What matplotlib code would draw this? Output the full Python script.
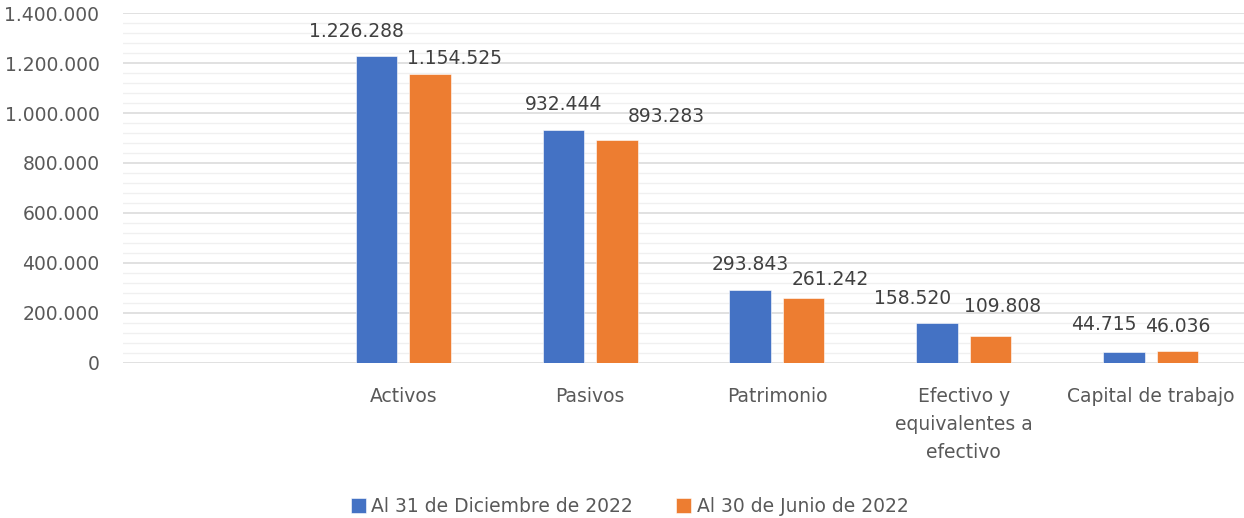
import matplotlib
matplotlib.use("Agg")
import matplotlib.pyplot as plt
from matplotlib.ticker import MultipleLocator, FuncFormatter

# Data (first category is intentionally empty, as in the original sheet)
categories = ["", "Activos", "Pasivos", "Patrimonio",
              "Efectivo y\nequivalentes a\nefectivo", "Capital de trabajo"]
dic_2022 = [0, 1226288, 932444, 293843, 158520, 44715]
jun_2022 = [0, 1154525, 893283, 261242, 109808, 46036]
series_names = ["Al 31 de Diciembre de 2022", "Al 30 de Junio de 2022"]

# manual label nudges (pixels) taken from the original chart
dic_label_dx = [0, -20, 0, 0, -24, -20]
dic_label_dy = [0, 25, 25, 25, 25, 27]
jun_label_dx = [0, 25, 50, 27, 12, 0]
jun_label_dy = [0, 16, 23, 18, 29, 25]

BLUE = "#4472C4"
ORANGE = "#ED7D31"
TXT = "#595959"
FS = 13.5

plt.rcParams["font.family"] = ["DejaVu Sans"]
plt.rcParams["font.size"] = FS

fig = plt.figure(figsize=(12.44, 5.18), dpi=100)
ax = fig.add_axes([123 / 1244, 155 / 518, 1121 / 1244, 350 / 518])

x = list(range(len(categories)))
w = 0.2225
off = 0.143
b1 = ax.bar([i - off for i in x], dic_2022, w, color=BLUE, edgecolor="white", linewidth=0.4,
            label=series_names[0], zorder=3)
b2 = ax.bar([i + off for i in x], jun_2022, w, color=ORANGE, edgecolor="white", linewidth=0.4,
            label=series_names[1], zorder=3)


def fmt(v):
    return f"{int(v):,}".replace(",", ".")


for bars, vals, dxs, dys in [(b1, dic_2022, dic_label_dx, dic_label_dy),
                             (b2, jun_2022, jun_label_dx, jun_label_dy)]:
    for bar, v, dx, dy in zip(bars, vals, dxs, dys):
        if v == 0:
            continue
        ax.annotate(fmt(v), (bar.get_x() + bar.get_width() / 2, v),
                    xytext=(dx, dy), textcoords="offset pixels",
                    ha="center", va="center", color="#404040", fontsize=FS)

ax.set_xlim(-0.5, len(categories) - 0.5)
ax.set_ylim(0, 1400000)
ax.yaxis.set_major_locator(MultipleLocator(200000))
ax.yaxis.set_minor_locator(MultipleLocator(40000))
ax.yaxis.set_major_formatter(FuncFormatter(lambda v, p: fmt(v)))
ax.grid(axis="y", which="major", color="#D9D9D9", linewidth=1.1, zorder=0)
ax.grid(axis="y", which="minor", color="#F0F0F0", linewidth=1.0, zorder=0)
ax.set_axisbelow(True)

ax.set_xticks(x)
ax.set_xticklabels(categories, linespacing=1.6)
ax.tick_params(axis="x", length=0, pad=17, colors=TXT, labelsize=FS)
ax.tick_params(axis="y", which="both", length=0, pad=17, colors=TXT, labelsize=FS)
for s in ax.spines.values():
    s.set_visible(False)

leg = fig.legend(loc="center", bbox_to_anchor=(0.506, 0.022), ncol=2, frameon=False,
                 handlelength=0.8, handleheight=0.8, handletextpad=0.3,
                 columnspacing=2.3, fontsize=FS)
for t in leg.get_texts():
    t.set_color(TXT)

fig.savefig("out.png", dpi=100)
